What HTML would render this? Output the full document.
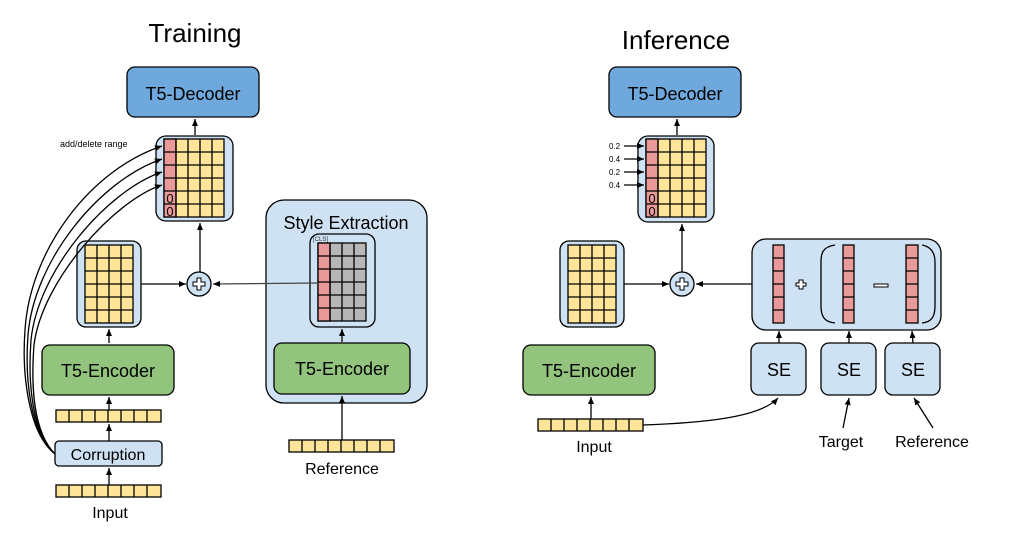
<!DOCTYPE html>
<html><head><style>body{margin:0;background:#fff}svg{display:block}text{font-family:"Liberation Sans",Arial,sans-serif}</style></head><body>
<svg width="1010" height="536" viewBox="0 0 1010 536" xmlns="http://www.w3.org/2000/svg">
<defs><marker id="a" markerWidth="8" markerHeight="8" refX="7" refY="4" orient="auto" markerUnits="userSpaceOnUse"><path d="M0,1 L7,4 L0,7 z" fill="#000"/></marker></defs>
<g stroke="#000" stroke-width="1.3">
<!-- TRAINING -->
<text x="195" y="42" font-size="26" text-anchor="middle" stroke="none">Training</text>
<rect x="127" y="67" width="132" height="50" rx="8" fill="#6fa8dc"/>
<text x="193" y="100" font-size="18" text-anchor="middle" stroke="none">T5-Decoder</text>
<line x1="195" y1="135" x2="195" y2="119" marker-end="url(#a)"/>
<rect x="156" y="136" width="77" height="85" rx="10" fill="#cfe2f3"/>
<rect x="164" y="139" width="60" height="78" fill="#ffe599"/>
<rect x="164" y="139" width="12" height="78" fill="#ea9999"/>
<path d="M176,139V217M188,139V217M200,139V217M212,139V217M164,152H224M164,165H224M164,178H224M164,191H224M164,204H224" fill="none"/>
<text x="170" y="203" font-size="13" text-anchor="middle" stroke="none">0</text>
<text x="170" y="216" font-size="13" text-anchor="middle" stroke="none">0</text>
<text x="60" y="147" font-size="9" stroke="none">add/delete range</text>
<line x1="200" y1="272" x2="200" y2="223" marker-end="url(#a)"/>
<rect x="77" y="241" width="64" height="86" rx="9" fill="#cfe2f3"/>
<rect x="85" y="245" width="48" height="78" fill="#ffe599"/>
<path d="M97,245V323M109,245V323M121,245V323M85,258H133M85,271H133M85,284H133M85,297H133M85,310H133" fill="none"/>
<line x1="141" y1="284" x2="186" y2="284" marker-end="url(#a)"/>
<circle cx="199" cy="284" r="12" fill="#cfe2f3"/>
<path d="M197,278h4v4h4v4h-4v4h-4v-4h-4v-4h4z" fill="#fff" stroke-width="1"/>
<line x1="109" y1="343" x2="109" y2="329" marker-end="url(#a)"/>
<rect x="42" y="345" width="132" height="50" rx="8" fill="#93c47d"/>
<text x="108" y="377" font-size="18" text-anchor="middle" stroke="none">T5-Encoder</text>
<line x1="109" y1="410" x2="109" y2="397" marker-end="url(#a)"/>
<rect x="56" y="410" width="105" height="12" fill="#ffe599"/>
<path d="M69,410v12M82,410v12M95,410v12M108,410v12M121,410v12M134,410v12M147,410v12" fill="none"/>
<line x1="109" y1="441" x2="109" y2="424" marker-end="url(#a)"/>
<rect x="55" y="441" width="107" height="25" rx="4" fill="#cfe2f3"/>
<text x="108" y="460" font-size="16" text-anchor="middle" stroke="none">Corruption</text>
<line x1="109" y1="485" x2="109" y2="468" marker-end="url(#a)"/>
<rect x="56" y="485" width="105" height="12" fill="#ffe599"/>
<path d="M69,485v12M82,485v12M95,485v12M108,485v12M121,485v12M134,485v12M147,485v12" fill="none"/>
<text x="110" y="518" font-size="16" text-anchor="middle" stroke="none">Input</text>
<!-- curves -->
<path d="M55,454 C27,432 22,370 25,330 C30,250 90,170 162,146" fill="none" marker-end="url(#a)"/>
<path d="M55,454 C29,432 25,375 28,335 C34,260 100,180 162,159" fill="none" marker-end="url(#a)"/>
<path d="M55,454 C31,432 28,380 31,340 C38,270 108,190 162,172" fill="none" marker-end="url(#a)"/>
<path d="M55,454 C33,432 31,385 34,345 C42,280 115,200 162,185" fill="none" marker-end="url(#a)"/>
<!-- Style extraction -->
<rect x="266" y="200" width="161" height="203" rx="18" fill="#cfe2f3"/>
<text x="346" y="229" font-size="18" text-anchor="middle" stroke="none">Style Extraction</text>
<rect x="310" y="234" width="65" height="93" rx="9" fill="#cfe2f3"/>
<text x="313" y="241" font-size="6" stroke="none" fill="#333">[CLS]</text>
<rect x="318" y="243" width="48" height="78" fill="#b7b7b7"/>
<rect x="318" y="243" width="12" height="78" fill="#ea9999"/>
<path d="M330,243V321M342,243V321M354,243V321M318,256H366M318,269H366M318,282H366M318,295H366M318,308H366" fill="none"/>
<line x1="318" y1="283" x2="213" y2="284" stroke="#444" marker-end="url(#a)"/>
<line x1="342" y1="342" x2="342" y2="329" marker-end="url(#a)"/>
<rect x="274" y="343" width="136" height="51" rx="8" fill="#93c47d"/>
<text x="342" y="375" font-size="18" text-anchor="middle" stroke="none">T5-Encoder</text>
<line x1="342" y1="440" x2="342" y2="396" marker-end="url(#a)"/>
<rect x="289" y="440" width="105" height="12" fill="#ffe599"/>
<path d="M302,440v12M315,440v12M328,440v12M341,440v12M354,440v12M367,440v12M380,440v12" fill="none"/>
<text x="342" y="474" font-size="16" text-anchor="middle" stroke="none">Reference</text>
<!-- INFERENCE -->
<text x="676" y="49" font-size="26" text-anchor="middle" stroke="none">Inference</text>
<rect x="609" y="67" width="132" height="50" rx="8" fill="#6fa8dc"/>
<text x="675" y="100" font-size="18" text-anchor="middle" stroke="none">T5-Decoder</text>
<line x1="677" y1="135" x2="677" y2="119" marker-end="url(#a)"/>
<rect x="638" y="136" width="76" height="86" rx="10" fill="#cfe2f3"/>
<rect x="646" y="139" width="60" height="78" fill="#ffe599"/>
<rect x="646" y="139" width="12" height="78" fill="#ea9999"/>
<path d="M658,139V217M670,139V217M682,139V217M694,139V217M646,152H706M646,165H706M646,178H706M646,191H706M646,204H706" fill="none"/>
<text x="652" y="203" font-size="13" text-anchor="middle" stroke="none">0</text>
<text x="652" y="216" font-size="13" text-anchor="middle" stroke="none">0</text>
<g font-size="8" stroke="none"><text x="609" y="149">0.2</text><text x="609" y="162">0.4</text><text x="609" y="175">0.2</text><text x="609" y="188">0.4</text></g>
<line x1="624" y1="146" x2="644" y2="146" marker-end="url(#a)"/>
<line x1="624" y1="159" x2="644" y2="159" marker-end="url(#a)"/>
<line x1="624" y1="172" x2="644" y2="172" marker-end="url(#a)"/>
<line x1="624" y1="185" x2="644" y2="185" marker-end="url(#a)"/>
<line x1="682" y1="272" x2="682" y2="224" marker-end="url(#a)"/>
<rect x="560" y="241" width="64" height="86" rx="9" fill="#cfe2f3"/>
<rect x="568" y="245" width="48" height="78" fill="#ffe599"/>
<path d="M580,245V323M592,245V323M604,245V323M568,258H616M568,271H616M568,284H616M568,297H616M568,310H616" fill="none"/>
<line x1="624" y1="284" x2="669" y2="284" marker-end="url(#a)"/>
<circle cx="682" cy="284" r="12" fill="#cfe2f3"/>
<path d="M680,278h4v4h4v4h-4v4h-4v-4h-4v-4h4z" fill="#fff" stroke-width="1"/>
<line x1="752" y1="284" x2="696" y2="284" marker-end="url(#a)"/>
<rect x="752" y="239" width="189" height="91" rx="14" fill="#cfe2f3"/>
<g fill="#ea9999">
<rect x="773" y="245" width="11" height="78"/><rect x="843" y="245" width="11" height="78"/><rect x="906" y="245" width="12" height="78"/></g>
<path d="M773,258h11M773,271h11M773,284h11M773,297h11M773,310h11M843,258h11M843,271h11M843,284h11M843,297h11M843,310h11M906,258h12M906,271h12M906,284h12M906,297h12M906,310h12" fill="none"/>
<path d="M799,280h4v3h3v3h-3v3h-4v-3h-3v-3h3z" fill="#fff" stroke-width="1"/>
<rect x="874" y="284" width="14" height="3" fill="#fff" stroke-width="1"/>
<path d="M835,245 C822,247 821,254 821,262 V306 C821,316 824,322 835,323" fill="none"/>
<path d="M922,245 C932,247 935,254 935,262 V306 C935,316 932,322 922,323" fill="none"/>
<line x1="779" y1="343" x2="779" y2="331" marker-end="url(#a)"/>
<line x1="849" y1="343" x2="849" y2="331" marker-end="url(#a)"/>
<line x1="913" y1="343" x2="912" y2="331" marker-end="url(#a)"/>
<rect x="751" y="343" width="55" height="52" rx="8" fill="#cfe2f3"/>
<rect x="821" y="343" width="55" height="52" rx="8" fill="#cfe2f3"/>
<rect x="885" y="343" width="55" height="52" rx="8" fill="#cfe2f3"/>
<g font-size="18" text-anchor="middle" stroke="none"><text x="779" y="376">SE</text><text x="849" y="376">SE</text><text x="913" y="376">SE</text></g>
<line x1="843" y1="428" x2="849" y2="398" marker-end="url(#a)"/>
<line x1="933" y1="428" x2="914" y2="398" marker-end="url(#a)"/>
<text x="841" y="447" font-size="16" text-anchor="middle" stroke="none">Target</text>
<text x="932" y="447" font-size="16" text-anchor="middle" stroke="none">Reference</text>
<rect x="523" y="345" width="132" height="50" rx="8" fill="#93c47d"/>
<text x="589" y="377" font-size="18" text-anchor="middle" stroke="none">T5-Encoder</text>
<line x1="591" y1="419" x2="591" y2="397" marker-end="url(#a)"/>
<rect x="538" y="419" width="105" height="12" fill="#ffe599"/>
<path d="M551,419v12M564,419v12M577,419v12M590,419v12M603,419v12M616,419v12M629,419v12" fill="none"/>
<text x="594" y="452" font-size="16" text-anchor="middle" stroke="none">Input</text>
<path d="M643,425 C700,423 760,418 778,398" fill="none" marker-end="url(#a)"/>
</g>
</svg>
</body></html>
